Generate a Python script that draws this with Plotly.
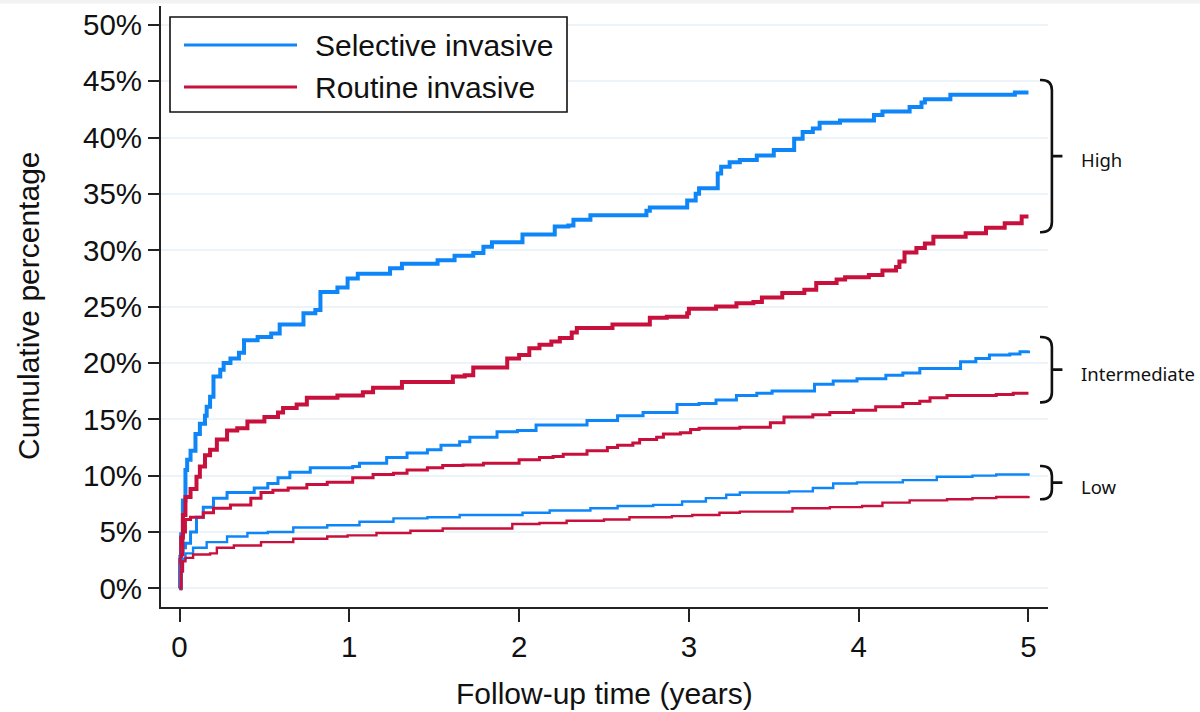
import plotly.graph_objects as go

# ---------------- data ----------------
high_sel_t = [0, 0.005, 0.01, 0.02, 0.035, 0.045, 0.065, 0.094, 0.12, 0.15, 0.16, 0.18, 0.2, 0.24, 0.26, 0.3, 0.35,
              0.38, 0.46, 0.54, 0.59, 0.73, 0.8, 0.83, 0.93, 0.99, 1.05, 1.24, 1.31, 1.52, 1.62, 1.73, 1.79, 1.84,
              2.02, 2.21, 2.29, 2.32, 2.42, 2.75, 2.77, 2.99, 3.04, 3.06, 3.17, 3.19, 3.24, 3.3, 3.4, 3.5, 3.62,
              3.67, 3.73, 3.77, 3.89, 4.09, 4.14, 4.3, 4.37, 4.39, 4.54, 4.92, 5.0]
high_sel_v = [0, 2.8, 4.8, 7.8, 10.5, 11.4, 12.2, 13.7, 14.6, 15.3, 16.1, 17.0, 18.8, 19.4, 20.0, 20.4, 20.9,
              22.0, 22.3, 22.6, 23.4, 24.4, 24.7, 26.3, 26.7, 27.5, 27.9, 28.4, 28.8, 29.1, 29.5, 29.75, 30.3, 30.7,
              31.4, 32.1, 32.2, 32.7, 33.1, 33.5, 33.8, 34.4, 35.0, 35.5, 36.8, 37.4, 37.8, 38.0, 38.4, 38.9, 39.9,
              40.5, 40.8, 41.3, 41.5, 42.0, 42.3, 42.7, 43.1, 43.4, 43.8, 44.0, 44.0]

high_rou_t = [0, 0.005, 0.01, 0.02, 0.035, 0.065, 0.1, 0.12, 0.15, 0.18, 0.22, 0.28, 0.34, 0.4, 0.5, 0.58, 0.61,
              0.69, 0.75, 0.93, 1.08, 1.14, 1.31, 1.61, 1.68, 1.73, 1.93, 2.0, 2.06, 2.12, 2.19, 2.24, 2.31, 2.34,
              2.55, 2.77, 2.87, 2.99, 3.0, 3.16, 3.28, 3.38, 3.43, 3.55, 3.68, 3.75, 3.87, 3.92, 4.06, 4.14, 4.22,
              4.24, 4.27, 4.34, 4.39, 4.44, 4.63, 4.75, 4.86, 4.96, 5.0]
high_rou_v = [0, 2.5, 4.5, 6.5, 8.1, 8.8, 9.9, 10.8, 11.8, 12.3, 13.2, 14.0, 14.2, 14.8, 15.2, 15.6, 16.0,
              16.3, 16.9, 17.1, 17.4, 17.8, 18.3, 18.8, 18.9, 19.6, 20.4, 20.7, 21.3, 21.6, 21.9, 22.2, 22.7, 23.1,
              23.4, 24.0, 24.1, 24.4, 24.8, 25.0, 25.3, 25.4, 25.8, 26.2, 26.5, 27.1, 27.4, 27.6, 27.8, 28.2, 28.5,
              29.0, 29.8, 30.2, 30.6, 31.2, 31.5, 32.0, 32.4, 33.0, 33.0]

int_sel_t = [0, 0.005, 0.01, 0.02, 0.035, 0.065, 0.1, 0.14, 0.2, 0.28, 0.44, 0.52, 0.58, 0.65, 0.77, 1.02, 1.06,
             1.22, 1.34, 1.46, 1.54, 1.65, 1.71, 1.87, 1.99, 2.1, 2.4, 2.58, 2.73, 2.93, 3.06, 3.16, 3.28, 3.4,
             3.49, 3.74, 3.85, 3.99, 4.16, 4.26, 4.36, 4.6, 4.69, 4.77, 4.89, 4.95, 5.0]
int_sel_v = [0, 2.0, 3.0, 3.6, 4.0, 5.0, 6.3, 7.2, 8.0, 8.5, 8.9, 9.3, 9.8, 10.3, 10.7, 10.8, 11.1,
             11.6, 12.0, 12.3, 12.7, 13.0, 13.4, 13.9, 14.0, 14.5, 14.9, 15.3, 15.6, 16.3, 16.4, 16.7, 17.1, 17.3,
             17.5, 18.1, 18.4, 18.6, 18.9, 19.1, 19.5, 20.1, 20.4, 20.7, 20.8, 21.0, 21.1]

int_rou_t = [0, 0.01, 0.02, 0.035, 0.065, 0.14, 0.2, 0.3, 0.42, 0.48, 0.55, 0.64, 0.75, 0.87, 1.02, 1.14, 1.26,
             1.34, 1.46, 1.55, 1.67, 1.79, 2.0, 2.12, 2.2, 2.26, 2.4, 2.52, 2.58, 2.67, 2.71, 2.81, 2.85, 2.95,
             3.01, 3.06, 3.3, 3.48, 3.56, 3.73, 3.83, 3.97, 4.1, 4.26, 4.36, 4.42, 4.52, 4.81, 4.91, 5.0]
int_rou_v = [0, 3.0, 5.0, 6.1, 6.3, 6.7, 7.1, 7.4, 8.0, 8.5, 8.7, 8.9, 9.2, 9.4, 9.8, 10.1, 10.2,
             10.5, 10.7, 10.9, 10.95, 11.1, 11.4, 11.6, 11.7, 11.9, 12.2, 12.5, 12.7, 12.9, 13.2, 13.4, 13.7, 13.8,
             14.1, 14.2, 14.3, 14.7, 15.2, 15.4, 15.6, 15.8, 16.1, 16.4, 16.6, 16.9, 17.1, 17.2, 17.3, 17.3]

low_sel_t = [0, 0.01, 0.02, 0.035, 0.08, 0.16, 0.28, 0.4, 0.52, 0.67, 0.87, 1.06, 1.26, 1.46, 1.65, 2.02, 2.18,
             2.42, 2.58, 2.79, 2.96, 3.1, 3.22, 3.3, 3.59, 3.73, 3.85, 3.99, 4.26, 4.46, 4.67, 4.81, 5.0]
low_sel_v = [0, 1.5, 2.6, 3.1, 3.6, 4.1, 4.6, 4.9, 5.0, 5.4, 5.6, 5.9, 6.2, 6.3, 6.5, 6.7, 6.9,
             7.1, 7.3, 7.4, 7.7, 8.0, 8.3, 8.5, 8.6, 8.9, 9.3, 9.4, 9.6, 9.9, 10.0, 10.1, 10.2]

low_rou_t = [0, 0.01, 0.02, 0.035, 0.08, 0.18, 0.22, 0.32, 0.48, 0.67, 0.87, 0.99, 1.16, 1.36, 1.55, 1.96, 2.12,
             2.28, 2.5, 2.65, 2.9, 3.02, 3.18, 3.3, 3.61, 3.83, 4.02, 4.14, 4.3, 4.52, 4.67, 4.81, 5.0]
low_rou_v = [0, 1.5, 2.4, 2.7, 3.0, 3.1, 3.6, 3.8, 4.1, 4.4, 4.6, 4.7, 4.9, 5.1, 5.3, 5.7, 5.8,
             6.0, 6.1, 6.3, 6.4, 6.5, 6.7, 6.8, 7.1, 7.2, 7.3, 7.6, 7.8, 7.9, 8.0, 8.1, 8.2]

series_names = ["Selective invasive", "Routine invasive"]
group_labels = ["High", "Intermediate", "Low"]
group_top = [45.1, 22.3, 10.85]      # bracket extents (% units)
group_bottom = [31.6, 16.5, 7.9]

x_ticks = [0, 1, 2, 3, 4, 5]
y_ticks = [0, 5, 10, 15, 20, 25, 30, 35, 40, 45, 50]
y_tick_labels = [f"{v}%" for v in y_ticks]

# ---------------- styling ----------------
BLUE = "#0f86f8"
RED = "#c8103c"
FONT = "Liberation Sans, Arial, sans-serif"
X_RANGE = [-0.109, 5.115]
Y_RANGE = [-1.66, 51.67]

fig = go.Figure()

curves = [
    (high_sel_t, high_sel_v, BLUE, 4.0),
    (high_rou_t, high_rou_v, RED, 4.0),
    (int_sel_t, int_sel_v, BLUE, 3.0),
    (int_rou_t, int_rou_v, RED, 3.0),
    (low_sel_t, low_sel_v, BLUE, 2.4),
    (low_rou_t, low_rou_v, RED, 2.4),
]
for t, v, c, w in curves:
    fig.add_trace(go.Scatter(x=t, y=v, mode="lines", line=dict(color=c, width=w, shape="hv"),
                             showlegend=False, hoverinfo="skip"))

def xp(x):
    return (x - X_RANGE[0]) / (X_RANGE[1] - X_RANGE[0])

def yp(y):
    return (y - Y_RANGE[0]) / (Y_RANGE[1] - Y_RANGE[0])

shapes = []
annotations = []

# top light band (screenshot edge)
shapes.append(dict(type="rect", xref="paper", yref="paper", x0=-0.2, x1=1.2,
                   y0=yp(Y_RANGE[1]) + 6 / 601, y1=yp(Y_RANGE[1]) + 2.5 / 601,
                   fillcolor="#f2f2f2", line=dict(width=0), layer="below"))

# brackets
bx_hook = 5.068
bx_vert = 5.138
bx_tick = 5.20
for lab, top, bot in zip(group_labels, group_top, group_bottom):
    mid = (top + bot) / 2
    r = 0.012
    path = (f"M {xp(bx_hook)},{yp(top)} L {xp(bx_vert) - r},{yp(top)} "
            f"Q {xp(bx_vert)},{yp(top)} {xp(bx_vert)},{yp(top) - r * 1.4} "
            f"L {xp(bx_vert)},{yp(bot) + r * 1.4} "
            f"Q {xp(bx_vert)},{yp(bot)} {xp(bx_vert) - r},{yp(bot)} L {xp(bx_hook)},{yp(bot)} "
            f"M {xp(bx_vert)},{yp(mid)} L {xp(bx_tick)},{yp(mid)}")
    shapes.append(dict(type="path", xref="paper", yref="paper", path=path,
                       line=dict(color="#111111", width=2.6)))
    annotations.append(dict(xref="paper", yref="paper", x=xp(5.30), y=yp(mid) - 0.006, text=lab,
                            showarrow=False, xanchor="left", yanchor="middle",
                            font=dict(family="Noto Sans, Open Sans, sans-serif", size=18.5, color="#111111")))

# legend (drawn)
L0, L1 = (170 - 161) / 887, (567 - 161) / 887
T0, T1 = (607 - 17) / 601, (607 - 112) / 601
shapes.append(dict(type="rect", xref="paper", yref="paper", x0=L0, x1=L1, y0=T1, y1=T0,
                   line=dict(color="#111111", width=1.6), fillcolor="white"))
for name, col, py in zip(series_names, [BLUE, RED], [45, 87]):
    yy = (607 - py) / 601
    shapes.append(dict(type="line", xref="paper", yref="paper",
                       x0=(184 - 161) / 887, x1=(297 - 161) / 887, y0=yy, y1=yy,
                       line=dict(color=col, width=3)))
    annotations.append(dict(xref="paper", yref="paper", x=(313 - 161) / 887, y=yy, text=name,
                            showarrow=False, xanchor="left", yanchor="middle",
                            font=dict(family=FONT, size=30, color="#111111")))

# axis titles
annotations.append(dict(xref="paper", yref="paper", x=0.5, y=(607 - 693) / 601,
                        text="Follow-up time (years)", showarrow=False, xanchor="center", yanchor="middle",
                        font=dict(family=FONT, size=30, color="#111111")))
annotations.append(dict(xref="paper", yref="paper", x=(28 - 161) / 887, y=(607 - 306) / 601,
                        text="Cumulative percentage", showarrow=False, textangle=-90,
                        xanchor="center", yanchor="middle",
                        font=dict(family=FONT, size=30, color="#111111")))

fig.update_layout(
    width=1200, height=712,
    margin=dict(l=161, r=152, t=6, b=105),
    paper_bgcolor="white", plot_bgcolor="white",
    shapes=shapes, annotations=annotations,
    showlegend=False,
    xaxis=dict(range=X_RANGE, tickvals=x_ticks, ticktext=[str(v) for v in x_ticks],
               showgrid=False, zeroline=False, showline=True, linecolor="#222222", linewidth=2,
               ticks="outside", ticklen=13, tickwidth=2, tickcolor="#222222",
               tickfont=dict(family=FONT, size=29.5, color="#111111")),
    yaxis=dict(range=Y_RANGE, tickvals=y_ticks, ticktext=y_tick_labels,
               showgrid=True, gridcolor="#edf4f9", gridwidth=1.5, zeroline=False,
               showline=True, linecolor="#222222", linewidth=2,
               ticks="outside", ticklen=11, tickwidth=2, tickcolor="#222222",
               tickfont=dict(family=FONT, size=29.5, color="#111111")),
)

fig.write_html("out.html", config={"displayModeBar": False},
               post_script="document.body.style.margin='0';document.body.style.overflow='hidden';")
